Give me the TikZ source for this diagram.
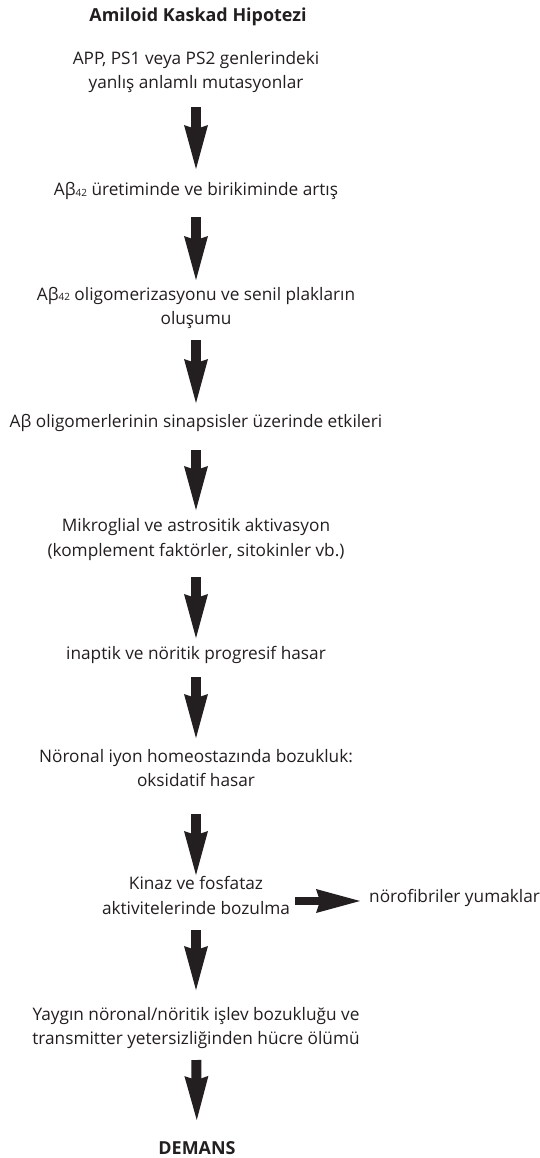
\documentclass[tikz,border=0pt]{standalone}
\usepackage{fontspec}
\setmainfont{Open Sans}
\usetikzlibrary{arrows.meta,calc}
\definecolor{ink}{HTML}{231F20}
\newcommand{\absub}[1]{{\fontsize{10}{10}\selectfont\raisebox{-0.6bp}{#1}}}
\begin{document}
\begin{tikzpicture}[x=1bp,y=-1bp,
  txt/.style={font=\fontsize{17.3}{24.8}\selectfont, text=ink, inner sep=0pt, align=center},
  ttl/.style={txt, font=\fontsize{18}{24.8}\selectfont\bfseries},
  bigarrow/.style={draw=ink, line width=10bp, -{Stealth[length=44bp,width=24bp,inset=4bp,line width=0pt]}},
  hbigarrow/.style={bigarrow, line width=8bp},
]
\useasboundingbox[fill=white] (0,0) rectangle (540,1158);
\node[ttl] (title) at (198,17) {Amiloid Kaskad Hipotezi};
\node[txt] (n1) at (196,72) {APP, PS1 veya PS2 genlerindeki\\yanlış anlamlı mutasyonlar};
\node[txt] (n2) at (196,191) {Aβ\absub{42} üretiminde ve birikiminde artış};
\node[txt] (n3) at (196,308) {Aβ\absub{42} oligomerizasyonu ve senil plakların\\oluşumu};
\node[txt] (n4) at (196,423) {Aβ oligomerlerinin sinapsisler üzerinde etkileri};
\node[txt] (n5) at (196,539.5) {Mikroglial ve astrositik aktivasyon\\(komplement faktörler, sitokinler vb.)};
\node[txt] (n6) at (196,655) {inaptik ve nöritik progresif hasar};
\node[txt] (n7) at (196,768) {Nöronal iyon homeostazında bozukluk:\\oksidatif hasar};
\node[txt] (n8) at (196,895.5) {Kinaz ve fosfataz\\aktivitelerinde bozulma};
\node[txt,anchor=west] (n9) at (369,898) {nörofibriler yumaklar};
\node[txt] (n10) at (196,1028) {Yaygın nöronal/nöritik işlev bozukluğu ve\\transmitter yetersizliğinden hücre ölümü};
\node[ttl] (n11) at (197,1148) {DEMANS};
\draw[bigarrow, shorten <=35bp, shorten >=22bp] (n1.center) -- (n2.center);
\draw[bigarrow, shorten <=26bp, shorten >=28bp] (n2.center) -- (n3.center);
\draw[bigarrow, shorten <=32bp, shorten >=20bp] (n3.center) -- (n4.center);
\draw[bigarrow, shorten <=27bp, shorten >=29.5bp] (n4.center) -- (n5.center);
\draw[bigarrow, shorten <=37.5bp, shorten >=17bp] (n5.center) -- (n6.center);
\draw[bigarrow, shorten <=22bp, shorten >=30bp] (n6.center) -- (n7.center);
\draw[bigarrow, shorten <=46bp, shorten >=20.5bp] (n7.center) -- (n8.center);
\draw[bigarrow, shorten <=34.5bp, shorten >=38bp] (n8.center) -- (n10.center);
\draw[bigarrow, shorten <=32bp, shorten >=28bp] (n10.center) -- (n11.center);
\draw[hbigarrow, shorten <=5bp, shorten >=9bp] ($(n9.west -| n8.east)+(0,3)$) -- ($(n9.west)+(0,3)$);
\end{tikzpicture}
\end{document}
